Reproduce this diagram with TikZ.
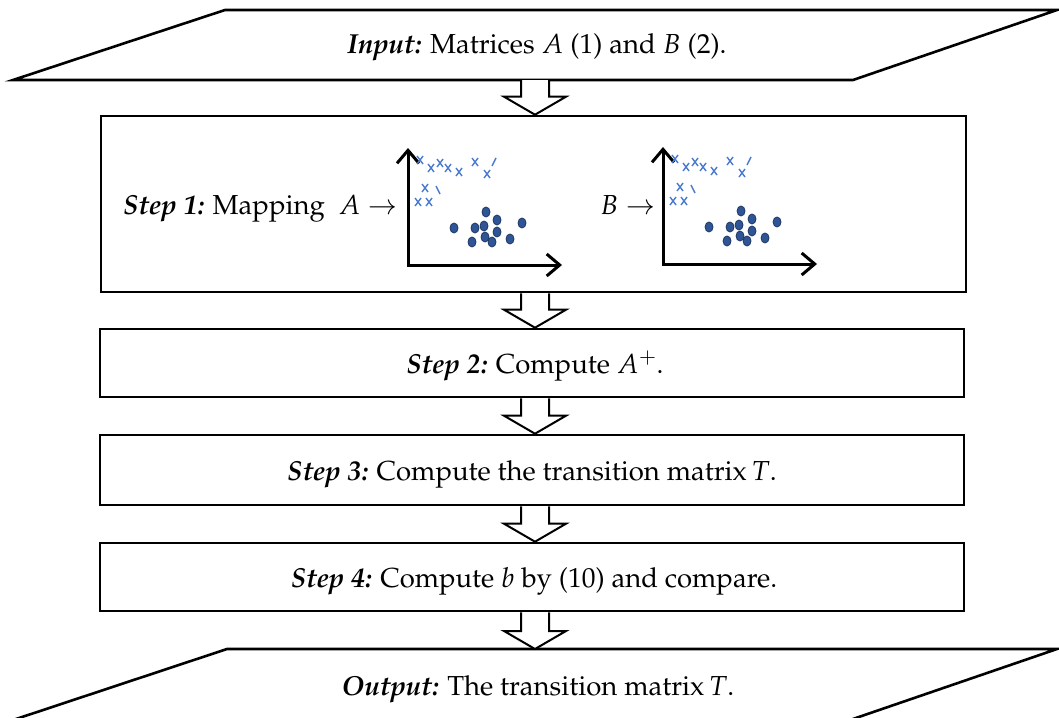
\documentclass[tikz,border=0pt]{standalone}
\usepackage[T1]{fontenc}
\usepackage{mathpazo}
\usetikzlibrary{arrows.meta,calc,fit}
\definecolor{crossblue}{RGB}{74,123,208}
\definecolor{dotblue}{RGB}{47,85,151}
\definecolor{dotedge}{RGB}{31,56,100}

% hollow block arrow between two anchors, centred on the x of (mid)
\newcommand\blockarr[2]{%
  \draw[blockarrow]
    ($(#1 -| mid)+(-14,0)$) -- ($(#2 -| mid)+(-14,-18)$) -- ($(#2 -| mid)+(-31,-18)$)
    -- (#2 -| mid) -- ($(#2 -| mid)+(31,-18)$) -- ($(#2 -| mid)+(14,-18)$)
    -- ($(#1 -| mid)+(14,0)$);}

\tikzset{
  frame/.style={draw=black,line width=2.6pt,line join=miter},
  stepbox/.style={draw=black,line width=2.6pt,inner sep=0pt},
  label/.style={font=\fontsize{27.5}{32}\selectfont,inner sep=0pt},
  blockarrow/.style={draw=black,fill=white,line width=2pt,line join=miter},
  axis/.style={line width=3pt,line join=miter,
    {Straight Barb[length=13pt,width=22pt]}-{Straight Barb[length=13pt,width=22pt]}},
  cross/.style={crossblue,line width=1.4pt},
  xcross/.pic={\draw[cross] (-3,-4) -- (3,4) (-3,4) -- (3,-4);},
  blob/.pic={\filldraw[fill=dotblue,draw=dotedge,line width=0.8pt] (0,0) ellipse [x radius=4, y radius=5];},
  scatter/.pic={
    \draw[axis] (0,-117) -- (0,0) -- (154,0);
    \foreach \p in {(12,-105),(23,-97),(32,-102),(40,-97),(51,-93),(67,-103),
                    (79,-91),(17,-77),(10,-63),(21,-63)}
      \pic at \p {xcross};
    \draw[cross] (84,-99) -- (88,-107);
    \draw[cross] (28,-79) -- (32,-71);
    \foreach \p in {(78,-53),(89,-45),(46,-37),(67,-37),(76,-39),(89,-33),
                    (114,-42),(77,-28),(64,-23),(84,-23),(102,-26)}
      \pic at \p {blob};
  }
}

\begin{document}
\begin{tikzpicture}[x=1pt,y=-1pt]
\useasboundingbox (0,0) rectangle (1059,717);
\coordinate (mid) at (535,0);

% input and output parallelograms
\draw[frame] (13,80) -- (225,10) -- (1057,10) -- (853,80) -- cycle;
\coordinate (in-s) at (535,80);
\node[label,anchor=base] (input) at (537,54)
  {\textbf{\textit{Input:}} Matrices $A$ (1) and $B$ (2).};

\draw[frame] (13,720) -- (227,649) -- (1057,649) -- (850,720);
\coordinate (out-n) at (535,649);
\node[label,anchor=base] (output) at (538,695)
  {\textbf{\textit{Output:}} The transition matrix\,$T$.};

% step boxes
\node[stepbox,fit={(101,116) (966,292)}] (s1) {};
\node[stepbox,fit={(100,329) (964,397)}] (s2) {};
\node[stepbox,fit={(100,435) (964,505)}] (s3) {};
\node[stepbox,fit={(100,543) (964,611)}] (s4) {};

% block arrows
\blockarr{in-s}{s1.north}
\blockarr{s1.south}{s2.north}
\blockarr{s2.south}{s3.north}
\blockarr{s3.south}{s4.north}
\blockarr{s4.south}{out-n}

% step texts
\node[label,anchor=base west] (t1) at (123,214)
  {\textbf{\textit{Step 1:}} Mapping\ \ $A\rightarrow$};
\node[label,anchor=base west] (t1b) at (600,214) {$B\rightarrow$};
\pic at (408,265) {scatter};
\pic at (663,264) {scatter};

\node[label,anchor=base] (t2) at (535,373)
  {\textbf{\textit{Step 2:}} Compute $A^{+}$.};
\node[label,anchor=base] (t3) at (532,480)
  {\textbf{\textit{Step 3:}} Compute the transition matrix\,$T$.};
\node[label,anchor=base] (t4) at (534,587)
  {\textbf{\textit{Step 4:}} Compute $b$ by (10) and compare.};
\end{tikzpicture}
\end{document}
